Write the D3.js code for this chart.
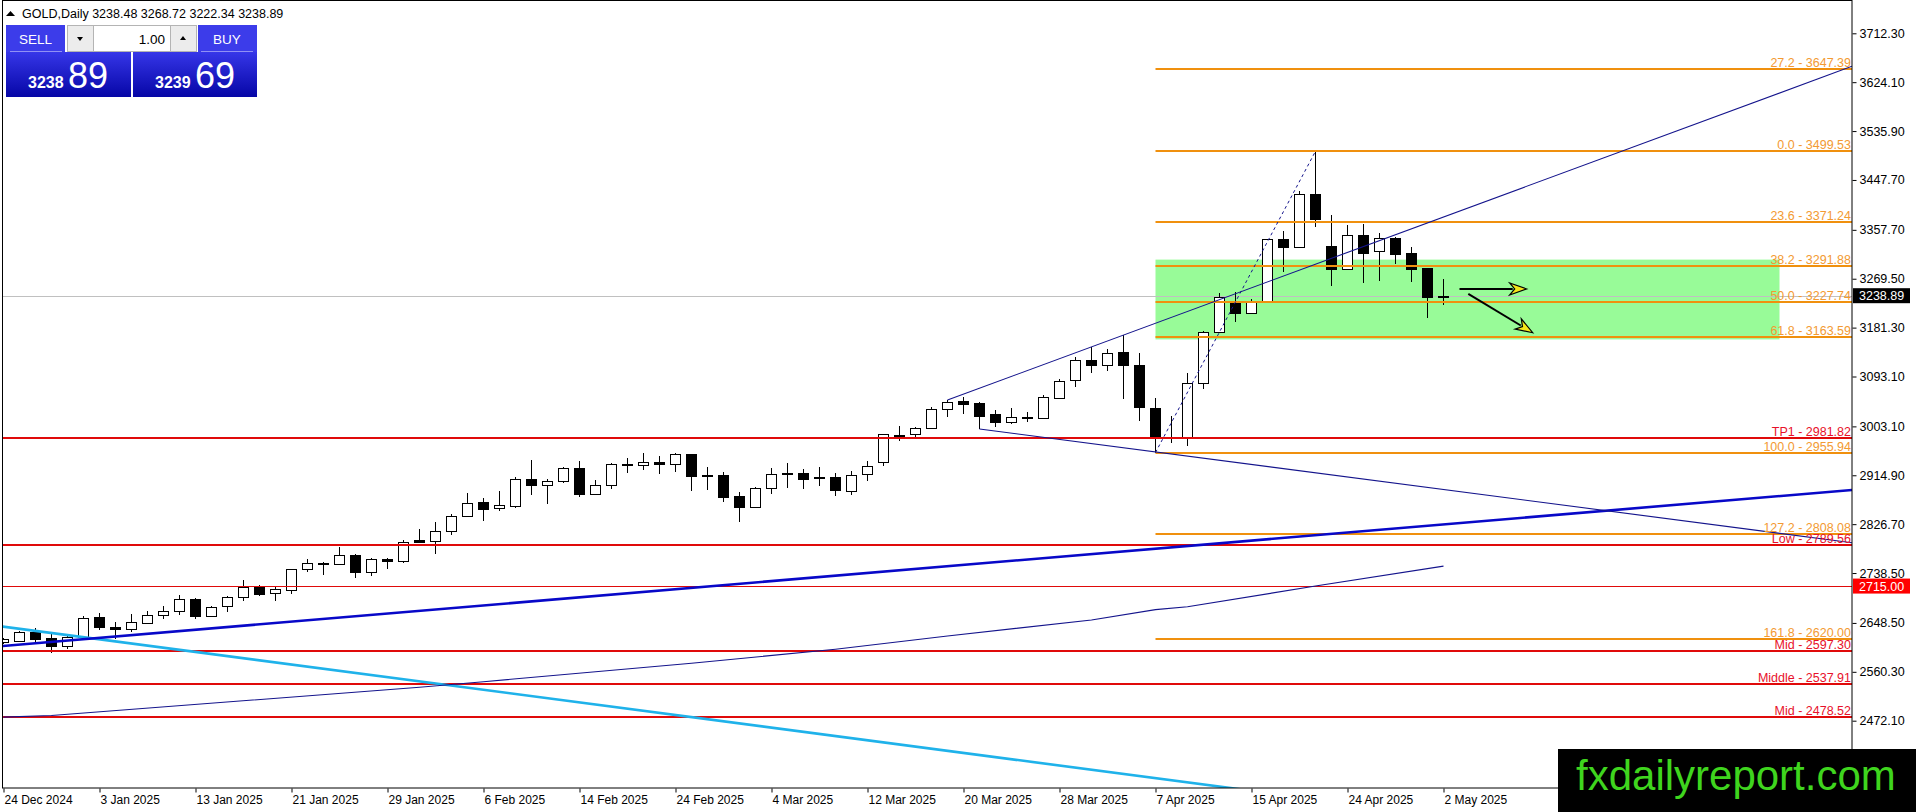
<!DOCTYPE html>
<html>
<head>
<meta charset="utf-8">
<script src="https://cdn.jsdelivr.net/npm/d3@7"></script>
<style>
  html, body { margin: 0; padding: 0; background: #fff; overflow: hidden; }
  svg { display: block; font-family: "Liberation Sans", Arial, sans-serif; }
</style>
</head>
<body>
<svg width="1916" height="812"></svg>
<script>

// ---- data ----

const dates = [
  "2024-12-24","2024-12-26","2024-12-27","2024-12-30","2024-12-31","2025-01-02","2025-01-03",
  "2025-01-06","2025-01-07","2025-01-08","2025-01-09","2025-01-10","2025-01-13","2025-01-14",
  "2025-01-15","2025-01-16","2025-01-17","2025-01-20","2025-01-21","2025-01-22","2025-01-23",
  "2025-01-24","2025-01-27","2025-01-28","2025-01-29","2025-01-30","2025-01-31","2025-02-03",
  "2025-02-04","2025-02-05","2025-02-06","2025-02-07","2025-02-10","2025-02-11","2025-02-12",
  "2025-02-13","2025-02-14","2025-02-17","2025-02-18","2025-02-19","2025-02-20","2025-02-21",
  "2025-02-24","2025-02-25","2025-02-26","2025-02-27","2025-02-28","2025-03-03","2025-03-04",
  "2025-03-05","2025-03-06","2025-03-07","2025-03-10","2025-03-11","2025-03-12","2025-03-13",
  "2025-03-14","2025-03-17","2025-03-18","2025-03-19","2025-03-20","2025-03-21","2025-03-24",
  "2025-03-25","2025-03-26","2025-03-27","2025-03-28","2025-03-31","2025-04-01","2025-04-02",
  "2025-04-03","2025-04-04","2025-04-07","2025-04-08","2025-04-09","2025-04-10","2025-04-11",
  "2025-04-14","2025-04-15","2025-04-16","2025-04-17","2025-04-21","2025-04-22","2025-04-23",
  "2025-04-24","2025-04-25","2025-04-28","2025-04-29","2025-04-30","2025-05-01","2025-05-02"
];

const open = [
  2613.6, 2616.0, 2632.7, 2620.7, 2606.3, 2623.7, 2659.2, 2641.2, 2637.0, 2647.8,
  2662.2, 2669.4, 2691.7, 2661.6, 2678.4, 2695.9, 2713.9, 2701.9, 2707.3, 2745.2,
  2757.2, 2754.8, 2770.5, 2739.8, 2763.2, 2759.6, 2797.5, 2796.9, 2813.8, 2841.4,
  2866.1, 2855.3, 2860.1, 2907.6, 2896.7, 2904.0, 2927.4, 2881.7, 2898.0, 2935.2,
  2932.8, 2938.8, 2935.2, 2953.3, 2915.2, 2914.8, 2876.9, 2857.1, 2891.3, 2919.6,
  2919.0, 2911.8, 2911.2, 2885.9, 2916.6, 2938.2, 2987.6, 2988.8, 2999.6, 3033.9,
  3048.9, 3044.7, 3024.8, 3010.4, 3020.0, 3017.6, 3053.7, 3086.2, 3122.3, 3113.2,
  3136.7, 3113.2, 3035.7, 2981.5, 2984.6, 3080.8, 3174.0, 3226.3, 3208.3, 3227.5,
  3340.6, 3327.3, 3422.4, 3328.6, 3286.5, 3347.8, 3320.1, 3342.4, 3315.3, 3288.3,
  3238.48
];
const high = [
  2622.0, 2633.9, 2640.0, 2628.5, 2624.5, 2661.0, 2666.4, 2649.6, 2664.6, 2670.0,
  2678.4, 2698.3, 2692.9, 2679.0, 2696.5, 2725.9, 2716.9, 2713.9, 2745.8, 2763.8,
  2758.4, 2785.5, 2773.5, 2765.0, 2765.7, 2798.1, 2818.0, 2830.0, 2845.0, 2882.3,
  2873.3, 2886.5, 2911.2, 2942.5, 2908.2, 2929.2, 2940.7, 2906.4, 2937.7, 2946.1,
  2955.7, 2949.7, 2955.7, 2954.0, 2930.4, 2920.8, 2884.1, 2894.3, 2927.4, 2936.4,
  2926.2, 2929.2, 2919.0, 2922.6, 2940.7, 2990.0, 3003.8, 3001.4, 3037.5, 3050.7,
  3055.5, 3047.7, 3032.1, 3035.7, 3029.1, 3059.7, 3088.0, 3127.7, 3146.9, 3142.1,
  3168.0, 3134.9, 3053.7, 3021.8, 3100.0, 3174.5, 3243.2, 3245.6, 3232.3, 3341.0,
  3356.2, 3428.4, 3499.53, 3384.5, 3366.4, 3368.2, 3351.4, 3345.4, 3326.2, 3289.0,
  3268.72
];
const low = [
  2611.0, 2614.7, 2611.7, 2594.9, 2601.5, 2621.0, 2635.7, 2619.5, 2632.7, 2647.0,
  2655.0, 2663.4, 2656.2, 2660.4, 2668.8, 2688.1, 2697.1, 2688.1, 2701.3, 2741.0,
  2735.6, 2753.5, 2730.2, 2733.8, 2745.2, 2757.2, 2793.3, 2772.3, 2806.6, 2839.0,
  2833.0, 2851.1, 2855.3, 2879.9, 2863.7, 2900.4, 2876.3, 2878.7, 2890.7, 2918.4,
  2923.8, 2916.6, 2920.2, 2887.1, 2888.3, 2867.3, 2831.2, 2855.3, 2880.5, 2892.5,
  2890.7, 2896.1, 2878.1, 2879.9, 2905.2, 2932.2, 2977.3, 2984.6, 2997.8, 3020.6,
  3024.8, 2998.4, 3002.0, 3006.8, 3010.4, 3015.8, 3053.7, 3074.8, 3098.8, 3103.6,
  3053.0, 3013.4, 2955.94, 2973.7, 2968.3, 3069.9, 3172.2, 3192.0, 3207.0, 3227.0,
  3282.2, 3326.0, 3363.4, 3257.0, 3286.0, 3262.4, 3266.0, 3296.1, 3264.2, 3199.3,
  3222.34
];
const close = [
  2619.5, 2632.7, 2620.1, 2606.3, 2623.7, 2657.4, 2640.6, 2637.0, 2649.6, 2662.2,
  2669.4, 2691.7, 2661.6, 2676.6, 2695.9, 2713.9, 2701.3, 2709.7, 2745.2, 2756.0,
  2754.8, 2770.5, 2739.8, 2763.2, 2759.6, 2793.9, 2795.1, 2813.8, 2841.4, 2865.5,
  2854.7, 2860.7, 2908.2, 2896.7, 2904.0, 2927.4, 2881.7, 2898.0, 2934.6, 2932.8,
  2938.2, 2934.6, 2953.3, 2914.2, 2914.5, 2876.3, 2857.1, 2891.3, 2916.6, 2917.2,
  2908.8, 2909.4, 2887.7, 2914.8, 2932.2, 2988.8, 2985.2, 2999.6, 3033.9, 3046.5,
  3042.9, 3022.4, 3010.4, 3019.4, 3017.6, 3055.5, 3085.0, 3122.3, 3113.2, 3134.9,
  3113.2, 3037.5, 2984.6, 2984.5, 3080.8, 3174.0, 3235.9, 3208.3, 3227.5, 3340.6,
  3326.2, 3422.4, 3377.3, 3286.5, 3347.8, 3316.5, 3342.4, 3314.7, 3286.5, 3237.1,
  3238.89
];

// 200-day moving average, read at points along the curve [bar, price]
const ma200 = [
  [0, 2478.5], [3, 2481.5], [26, 2532.4], [30, 2542.5], [43, 2575.7], [52, 2601.0],
  [59, 2625.0], [68, 2653.8], [72, 2672.5], [74, 2677.8], [82, 2715.0], [90, 2751.0]
];

// trend lines, anchors as [bar, price]
const thickBlueLine = [[0, 2607.0], [100, 2850.6]];
const skyBlueLine   = [[0, 2641.7], [40, 2489.9]];
const channelTop    = [[59, 3050.7], [90, 3380.9]];
const channelBottom = [[61, 2998.4], [72, 2957.0]];
const fibBase       = [[72, 2955.94], [82, 3499.53]];

// fibonacci levels (start at bar 72)
const fibStartBar = 72;
const fibNames  = ["27.2", "0.0", "23.6", "38.2", "50.0", "61.8", "100.0", "127.2", "161.8"];
const fibPrices = [3647.39, 3499.53, 3371.24, 3291.88, 3227.74, 3163.59, 2955.94, 2808.08, 2620.00];

// red horizontal levels
const redNames  = ["TP1", "Low", "Mid", "Middle", "Mid"];
const redPrices = [2981.82, 2789.56, 2597.30, 2537.91, 2478.52];
const thinRedPrice = 2715.00;

// target zone [bars], [prices]
const zoneBars   = [72, 111];
const zonePrices = [3160.0, 3304.0];

// arrows [bar, price] from -> to
const arrowFlat = [[91.0, 3251.0], [95.2, 3251.0]];
const arrowDown = [[91.55, 3242.0], [95.58, 3172.1]];

const priceTicks = [3712.30, 3624.10, 3535.90, 3447.70, 3357.70, 3269.50, 3181.30, 3093.10,
                    3003.10, 2914.90, 2826.70, 2738.50, 2648.50, 2560.30, 2472.10];
const dateTickBars = [0, 6, 12, 18, 24, 30, 36, 42, 48, 54, 60, 66, 72, 78, 84, 90];

const bid = 3238.89;
const ask = 3239.69;

// ---- layout ----

const svg = d3.select("svg");
const plotL = 3, plotR = 1852, plotT = 1, plotB = 788;

const x = d3.scaleLinear().domain([0, 90]).range([3.5, 1443.5]);
const y = d3.scaleLinear().domain([2472.1, 3712.3]).range([720.7, 33.3]);

const barMin = x.invert(plotL - 2), barMax = x.invert(plotR);

const defs = svg.append("defs");
defs.append("clipPath").attr("id", "plotclip")
  .append("rect").attr("x", plotL).attr("y", plotT).attr("width", plotR - plotL).attr("height", plotB - plotT);

const grad = defs.append("linearGradient").attr("id", "pricegrad")
  .attr("x1", 0).attr("y1", 0).attr("x2", 0).attr("y2", 1);
grad.append("stop").attr("offset", "0%").attr("stop-color", "#3636e8");
grad.append("stop").attr("offset", "100%").attr("stop-color", "#0606a6");

svg.append("rect").attr("width", 1916).attr("height", 812).attr("fill", "#fff");

const plot = svg.append("g").attr("clip-path", "url(#plotclip)");

// target zone
plot.append("rect")
  .attr("x", x(zoneBars[0])).attr("y", y(zonePrices[1]))
  .attr("width", x(zoneBars[1]) - x(zoneBars[0]))
  .attr("height", y(zonePrices[0]) - y(zonePrices[1]))
  .attr("fill", "#98fb98");

// bid line
plot.append("line")
  .attr("x1", plotL).attr("x2", plotR)
  .attr("y1", Math.round(y(bid)) + 0.5).attr("y2", Math.round(y(bid)) + 0.5)
  .attr("stroke", "#c0c0c0").attr("stroke-width", 1);

// candles
const bars = open.map((o, i) => ({i, o, h: high[i], l: low[i], c: close[i]}));

plot.selectAll(".wick").data(bars).join("line")
  .attr("class", "wick")
  .attr("x1", d => x(d.i)).attr("x2", d => x(d.i))
  .attr("y1", d => Math.round(y(d.h))).attr("y2", d => Math.round(y(d.l)))
  .attr("stroke", "#000").attr("stroke-width", 1)
  .attr("shape-rendering", "crispEdges");

plot.selectAll(".body").data(bars).join("rect")
  .attr("class", "body")
  .attr("x", d => x(d.i) - 5)
  .attr("y", d => Math.round(y(Math.max(d.o, d.c))) + 0.5)
  .attr("width", 10)
  .attr("height", d => Math.max(1, Math.round(y(Math.min(d.o, d.c))) - Math.round(y(Math.max(d.o, d.c)))))
  .attr("fill", d => d.c >= d.o ? "#fff" : "#000")
  .attr("stroke", "#000").attr("stroke-width", 1)
  .attr("shape-rendering", "crispEdges");

// horizontal levels
const hy = p => Math.round(y(p));

plot.selectAll(".redlvl").data(redPrices).join("line")
  .attr("class", "redlvl")
  .attr("x1", plotL).attr("x2", plotR)
  .attr("y1", d => hy(d)).attr("y2", d => hy(d))
  .attr("stroke", "#e00a0a").attr("stroke-width", 2);

plot.append("line")
  .attr("x1", plotL).attr("x2", plotR)
  .attr("y1", hy(thinRedPrice) + 0.5).attr("y2", hy(thinRedPrice) + 0.5)
  .attr("stroke", "#e00a0a").attr("stroke-width", 1);

plot.selectAll(".fiblvl").data(fibPrices).join("line")
  .attr("class", "fiblvl")
  .attr("x1", x(fibStartBar)).attr("x2", plotR)
  .attr("y1", d => hy(d)).attr("y2", d => hy(d))
  .attr("stroke", "#f0900e").attr("stroke-width", 2);

// trend lines
function extended(pts, extendLeft, extendRight) {
  const [[b1, p1], [b2, p2]] = pts;
  const k = (p2 - p1) / (b2 - b1);
  const s = extendLeft ? barMin : b1;
  const e = extendRight ? barMax : b2;
  return [[s, p1 + k * (s - b1)], [e, p1 + k * (e - b1)]];
}
const line = d3.line().x(d => x(d[0])).y(d => y(d[1]));

plot.append("path").attr("d", line(extended(skyBlueLine, true, true)))
  .attr("fill", "none").attr("stroke", "#1fb2ea").attr("stroke-width", 2.6);
plot.append("path").attr("d", line(extended(thickBlueLine, true, true)))
  .attr("fill", "none").attr("stroke", "#0808c8").attr("stroke-width", 2.6);
plot.append("path").attr("d", line(ma200))
  .attr("fill", "none").attr("stroke", "#14148c").attr("stroke-width", 1.1);
plot.append("path").attr("d", line(extended(channelTop, false, true)))
  .attr("fill", "none").attr("stroke", "#14148c").attr("stroke-width", 1.1);
plot.append("path").attr("d", line(extended(channelBottom, false, true)))
  .attr("fill", "none").attr("stroke", "#14148c").attr("stroke-width", 1.1);
plot.append("path").attr("d", line(fibBase))
  .attr("fill", "none").attr("stroke", "#14148c").attr("stroke-width", 1)
  .attr("stroke-dasharray", "3,3");

// level labels
const labels = svg.append("g").attr("font-size", "12.5px").attr("text-anchor", "end");
labels.selectAll(".fibtxt").data(fibPrices).join("text")
  .attr("x", plotR - 1).attr("y", d => hy(d) - 2.5)
  .attr("fill", "#f39a32")
  .text((d, i) => `${fibNames[i]} - ${d.toFixed(2)}`);
labels.selectAll(".redtxt").data(redPrices).join("text")
  .attr("x", plotR - 1).attr("y", d => hy(d) - 2.5)
  .attr("fill", "#e8102a")
  .text((d, i) => `${redNames[i]} - ${d.toFixed(2)}`);

// arrows
function arrow(pts) {
  const [x1, y1, x2, y2] = [x(pts[0][0]), y(pts[0][1]), x(pts[1][0]), y(pts[1][1])];
  const ang = Math.atan2(y2 - y1, x2 - x1);
  const len = 17, half = 6;
  const bx = x2 - len * Math.cos(ang), by = y2 - len * Math.sin(ang);
  const px = -Math.sin(ang) * half, py = Math.cos(ang) * half;
  const g = plot.append("g");
  g.append("line").attr("x1", x1).attr("y1", y1).attr("x2", bx + 3 * Math.cos(ang)).attr("y2", by + 3 * Math.sin(ang))
    .attr("stroke", "#000").attr("stroke-width", 2);
  g.append("path")
    .attr("d", `M${x2},${y2} L${bx + px},${by + py} L${bx + 5 * Math.cos(ang)},${by + 5 * Math.sin(ang)} L${bx - px},${by - py} Z`)
    .attr("fill", "#f4e61a").attr("stroke", "#000").attr("stroke-width", 1.2);
}
arrow(arrowFlat);
arrow(arrowDown);

// frame
svg.append("rect").attr("x", 2.5).attr("y", 0.5).attr("width", plotR - 2.5).attr("height", plotB - 0.5)
  .attr("fill", "none").attr("stroke", "#000").attr("stroke-width", 1);

// price axis
const yAxis = svg.append("g").attr("transform", `translate(${plotR + 0.5},0)`)
  .call(d3.axisRight(y).tickValues(priceTicks).tickFormat(d3.format(".2f")).tickSize(4).tickPadding(3));
yAxis.select(".domain").remove();
yAxis.selectAll("text").attr("font-size", "12.5px").attr("font-family", "Liberation Sans, Arial, sans-serif").attr("fill", "#000");
yAxis.selectAll("line").attr("stroke", "#000");

// date axis
const fmt = d3.timeFormat("%-d %b %Y");
const parse = d3.timeParse("%Y-%m-%d");
const xAxis = svg.append("g").attr("transform", `translate(0,${plotB + 0.5})`)
  .call(d3.axisBottom(x).tickValues(dateTickBars).tickFormat(d => fmt(parse(dates[d]))).tickSize(4).tickPadding(3));
xAxis.select(".domain").remove();
xAxis.selectAll("text").attr("text-anchor", "start").attr("dx", 0.5)
  .attr("font-size", "12px").attr("font-family", "Liberation Sans, Arial, sans-serif").attr("fill", "#000");
xAxis.selectAll("line").attr("stroke", "#000");

// price tags on the axis
function priceTag(p, bg) {
  const yy = y(p);
  svg.append("rect").attr("x", plotR + 1).attr("y", yy - 7.5).attr("width", 57).attr("height", 15).attr("fill", bg);
  svg.append("text").attr("x", plotR + 7).attr("y", yy + 4.5)
    .attr("font-size", "12.5px").attr("fill", "#fff").text(p.toFixed(2));
}
priceTag(bid, "#000");
priceTag(thinRedPrice, "#ff0000");

// title
svg.append("path").attr("d", "M6,16 L10.5,11 L15,16 Z").attr("fill", "#000");
const last = close.length - 1;
svg.append("text").attr("x", 22).attr("y", 17.5).attr("font-size", "12.5px").attr("fill", "#000")
  .text(`GOLD,Daily ${open[last].toFixed(2)} ${high[last].toFixed(2)} ${low[last].toFixed(2)} ${close[last].toFixed(2)}`);

// one-click trading panel
const panel = svg.append("g");
panel.append("rect").attr("x", 6).attr("y", 25).attr("width", 59).attr("height", 27).attr("fill", "#3c3cea");
panel.append("rect").attr("x", 198).attr("y", 25).attr("width", 59).attr("height", 27).attr("fill", "#3c3cea");
panel.append("line").attr("x1", 10).attr("x2", 62).attr("y1", 51.5).attr("y2", 51.5).attr("stroke", "#9090f4");
panel.append("line").attr("x1", 201).attr("x2", 253).attr("y1", 51.5).attr("y2", 51.5).attr("stroke", "#9090f4");
panel.append("text").attr("x", 35.5).attr("y", 44).attr("text-anchor", "middle").attr("font-size", "13.5px").attr("fill", "#fff").text("SELL");
panel.append("text").attr("x", 227).attr("y", 44).attr("text-anchor", "middle").attr("font-size", "13.5px").attr("fill", "#fff").text("BUY");
panel.append("rect").attr("x", 67.5).attr("y", 25.5).attr("width", 129).attr("height", 26).attr("fill", "#ececec").attr("stroke", "#b4b4b4");
panel.append("rect").attr("x", 93.5).attr("y", 25.5).attr("width", 77).attr("height", 26).attr("fill", "#fff").attr("stroke", "#b4b4b4");
panel.append("path").attr("d", "M77,37 L83,37 L80,41 Z").attr("fill", "#000");
panel.append("path").attr("d", "M180,40 L186,40 L183,36 Z").attr("fill", "#000");
panel.append("text").attr("x", 165).attr("y", 43.5).attr("text-anchor", "end").attr("font-size", "13.5px").attr("fill", "#000").text("1.00");

function priceBox(x0, w, p) {
  const s = p.toFixed(2).split(".");
  panel.append("rect").attr("x", x0).attr("y", 52).attr("width", w).attr("height", 45).attr("fill", "url(#pricegrad)");
  panel.append("text").attr("x", x0 + 22).attr("y", 87.5).attr("font-size", "16px").attr("font-weight", "bold")
    .attr("fill", "#fff").text(s[0]);
  panel.append("text").attr("x", x0 + 62).attr("y", 87.5).attr("font-size", "36px")
    .attr("fill", "#fff").text(s[1]);
}
priceBox(6, 125, bid);
priceBox(133, 124, ask);

// watermark
svg.append("rect").attr("x", 1558).attr("y", 749).attr("width", 358).attr("height", 63).attr("fill", "#000");
svg.append("text").attr("x", 1576).attr("y", 790).attr("font-size", "42px").attr("fill", "#3fd51e")
  .text("fxdailyreport.com");

</script>
</body>
</html>
